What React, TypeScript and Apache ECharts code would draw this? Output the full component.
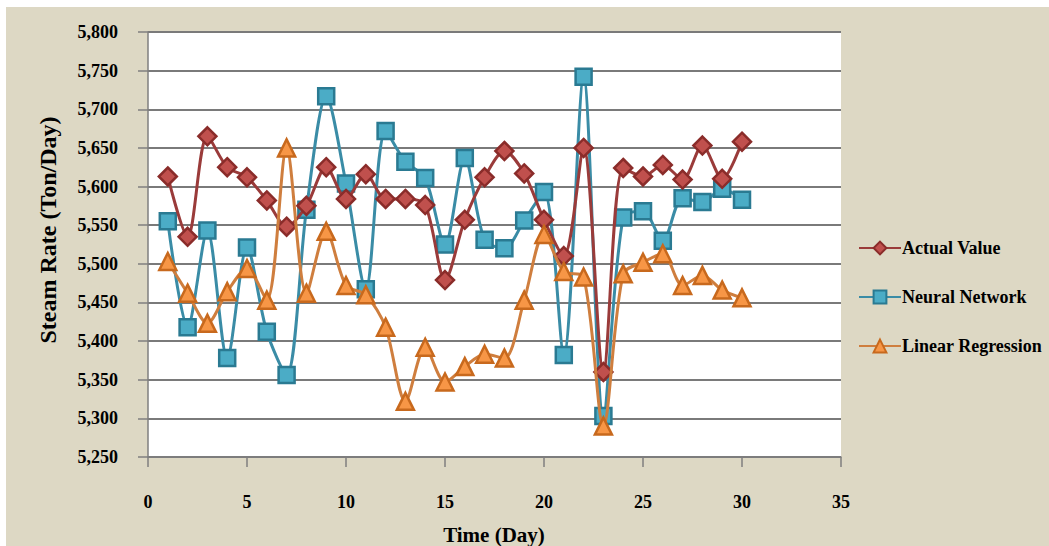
import React, { useEffect, useRef } from "react";
import * as echarts from "echarts";

const days = [1, 2, 3, 4, 5, 6, 7, 8, 9, 10, 11, 12, 13, 14, 15, 16, 17, 18, 19, 20, 21, 22, 23, 24, 25, 26, 27, 28, 29, 30];
const actualValue = [5613, 5535, 5665, 5625, 5612, 5582, 5548, 5575, 5625, 5584, 5616, 5584, 5584, 5576, 5479, 5557, 5612, 5646, 5617, 5557, 5510, 5650, 5360, 5624, 5613, 5628, 5609, 5653, 5610, 5658];
const neuralNetwork = [5555, 5418, 5543, 5378, 5521, 5412, 5356, 5570, 5717, 5604, 5467, 5672, 5632, 5611, 5525, 5637, 5531, 5520, 5556, 5593, 5382, 5742, 5303, 5560, 5568, 5530, 5585, 5580, 5597, 5583];
const linearRegression = [5503, 5462, 5423, 5464, 5494, 5453, 5650, 5462, 5542, 5472, 5460, 5418, 5322, 5392, 5347, 5367, 5383, 5378, 5453, 5538, 5490, 5483, 5290, 5487, 5502, 5513, 5472, 5485, 5466, 5456];
const seriesNames = ["Actual Value", "Neural Network", "Linear Regression"];
const xTitle = "Time (Day)";
const yTitle = "Steam Rate (Ton/Day)";

const FONT = "'Liberation Serif', 'Times New Roman', serif";

export default function App() {
  const ref = useRef<HTMLDivElement>(null);
  useEffect(() => {
    if (!ref.current) return;
    const chart = echarts.init(ref.current, null, { renderer: "svg" });
    const pair = (vals: number[]) => days.map((d, i) => [d, vals[i]]);
    const mk = (name: string, vals: number[], line: string, fill: string, border: string, symbol: string, size: number, z: number) => ({
      name,
      type: "line",
      data: pair(vals),
      smooth: 0.3,
      symbol,
      symbolSize: size,
      z,
      lineStyle: { color: line, width: 3 },
      itemStyle: { color: fill, borderColor: border, borderWidth: 2.5 },
    });
    chart.setOption({
      animation: false,
      backgroundColor: "transparent",
      textStyle: { fontFamily: FONT },
      grid: {
        left: 148,
        right: 208,
        top: 32,
        bottom: 89,
        show: true,
        backgroundColor: "#ffffff",
        borderWidth: 0,
      },
      legend: {
        orient: "vertical",
        left: 853,
        top: 233,
        itemWidth: 42,
        itemHeight: 16,
        itemGap: 29,
        data: seriesNames,
        textStyle: { fontFamily: FONT, fontWeight: "bold", fontSize: 18, color: "#000", lineHeight: 20, padding: [0, 0, 0, -4] },
      },
      xAxis: {
        type: "value",
        min: 0,
        max: 35,
        interval: 5,
        axisLine: { show: true, lineStyle: { color: "#7f7f7f", width: 1.5 } },
        axisTick: { show: true, inside: false, length: 10, lineStyle: { color: "#7f7f7f", width: 1.5 } },
        splitLine: { show: false },
        axisLabel: { margin: 36, fontFamily: FONT, fontWeight: "bold", fontSize: 18, color: "#000" },
      },
      yAxis: {
        type: "value",
        min: 5250,
        max: 5800,
        interval: 50,
        axisLine: { show: true, lineStyle: { color: "#7f7f7f", width: 1.5 } },
        axisTick: { show: true, inside: false, length: 10, lineStyle: { color: "#7f7f7f", width: 1.5 } },
        splitLine: { show: true, lineStyle: { color: "#7a7a7a", width: 1.8 } },
        axisLabel: {
          margin: 30,
          fontFamily: FONT,
          fontWeight: "bold",
          fontSize: 18,
          color: "#000",
          formatter: (v: number) => v.toLocaleString("en-US"),
        },
      },
      graphic: [
        {
          type: "text",
          x: 494,
          y: 535,
          style: { text: xTitle, fontFamily: FONT, fontWeight: "bold", fontSize: 21, fill: "#000", textAlign: "center", textVerticalAlign: "middle" },
        },
        {
          type: "text",
          x: 48,
          y: 230,
          rotation: Math.PI / 2,
          style: { text: yTitle, fontFamily: FONT, fontWeight: "bold", fontSize: 24, fill: "#000", textAlign: "center", textVerticalAlign: "middle" },
        },
      ],
      series: [
        mk(seriesNames[0], actualValue, "#9A3B3A", "#C0504D", "#8A2C2A", "diamond", 18, 3),
        mk(seriesNames[1], neuralNetwork, "#3A8CA6", "#4BACC6", "#2A7A92", "rect", 16, 2),
        mk(seriesNames[2], linearRegression, "#CF7E3E", "#F79646", "#C8691D", "triangle", 17, 4),
      ],
    });
    return () => chart.dispose();
  }, []);
  return (
    <div style={{ position: "fixed", left: 0, top: 0, width: 1049, height: 546, background: "#ffffff" }}>
      <div style={{ position: "absolute", left: 6, top: 7, width: 1043, height: 539, background: "#DDD8C4" }} />
      <div ref={ref} style={{ position: "absolute", left: 0, top: 0, width: 1049, height: 546 }} />
    </div>
  );
}
